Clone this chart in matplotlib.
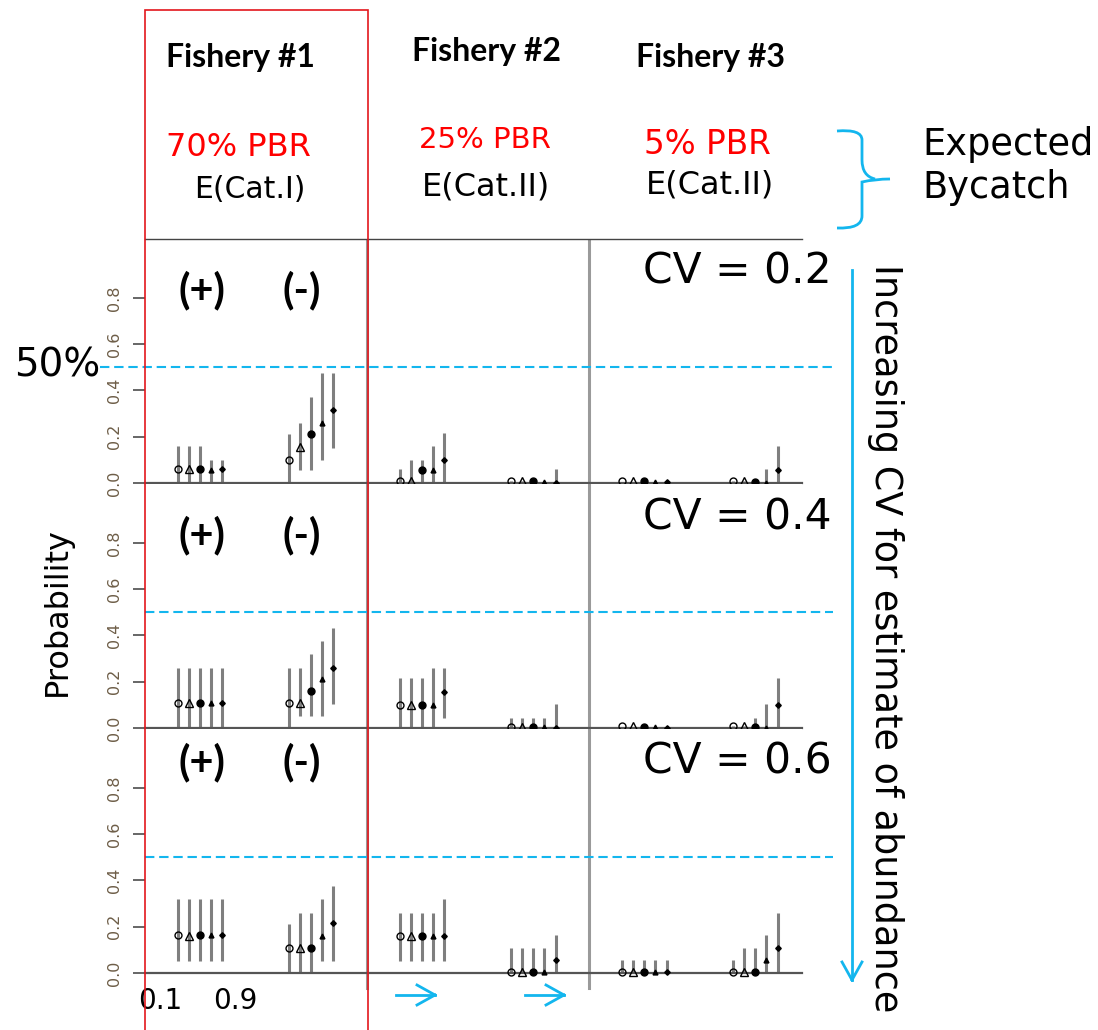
import numpy as np
import matplotlib
matplotlib.use("Agg")
import matplotlib.pyplot as plt
from matplotlib.lines import Line2D
from matplotlib.patches import Rectangle, PathPatch
from matplotlib.path import Path

# ------------------------------------------------------------------ data
fisheries = ["Fishery #1", "Fishery #2", "Fishery #3"]
pbr_share = ["70% PBR", "25% PBR", "5% PBR"]
bycatch_cat = ["E(Cat.I)", "E(Cat.II)", "E(Cat.II)"]
cv_levels = ["CV = 0.2", "CV = 0.4", "CV = 0.6"]
group_signs = ["(+)", "(-)"]

# 6 groups (F1+, F1-, F2+, F2-, F3+, F3-) x 5 scenarios each
mid_cv02 = [0.06, 0.06, 0.06, 0.055, 0.06,
            0.10, 0.155, 0.21, 0.26, 0.315,
            0.01, 0.01, 0.056, 0.056, 0.10,
            0.01, 0.01, 0.01, 0.005, 0.0,
            0.01, 0.01, 0.01, 0.005, 0.005,
            0.01, 0.01, 0.005, 0.0, 0.055]
lo_cv02 = [0.0, 0.0, 0.0, 0.0, 0.0,
           0.0, 0.055, 0.055, 0.10, 0.15,
           0.0, 0.0, 0.0, 0.0, 0.0,
           0.0, 0.0, 0.0, 0.0, 0.0,
           0.01, 0.01, 0.01, 0.005, 0.005,
           0.0, 0.0, 0.0, 0.0, 0.0]
hi_cv02 = [0.16, 0.16, 0.16, 0.10, 0.10,
           0.21, 0.26, 0.37, 0.475, 0.475,
           0.06, 0.10, 0.10, 0.16, 0.215,
           0.01, 0.01, 0.01, 0.01, 0.06,
           0.01, 0.01, 0.01, 0.005, 0.005,
           0.01, 0.01, 0.01, 0.06, 0.16]

mid_cv04 = [0.107, 0.107, 0.107, 0.107, 0.107,
            0.107, 0.107, 0.16, 0.21, 0.26,
            0.10, 0.10, 0.10, 0.10, 0.155,
            0.005, 0.005, 0.005, 0.005, 0.0,
            0.01, 0.01, 0.005, 0.005, 0.0,
            0.01, 0.01, 0.005, 0.0, 0.10]
lo_cv04 = [0.0, 0.0, 0.0, 0.0, 0.0,
           0.0, 0.05, 0.05, 0.05, 0.105,
           0.0, 0.0, 0.0, 0.0, 0.045,
           0.0, 0.0, 0.0, 0.0, 0.0,
           0.01, 0.01, 0.005, 0.005, 0.0,
           0.0, 0.0, 0.0, 0.0, 0.0]
hi_cv04 = [0.26, 0.26, 0.26, 0.26, 0.26,
           0.26, 0.26, 0.32, 0.375, 0.43,
           0.215, 0.215, 0.215, 0.26, 0.26,
           0.045, 0.045, 0.045, 0.045, 0.105,
           0.01, 0.01, 0.005, 0.005, 0.0,
           0.01, 0.01, 0.045, 0.105, 0.215]

mid_cv06 = [0.163, 0.16, 0.163, 0.163, 0.163,
            0.107, 0.107, 0.107, 0.16, 0.215,
            0.16, 0.16, 0.16, 0.16, 0.16,
            0.005, 0.005, 0.005, 0.005, 0.055,
            0.005, 0.005, 0.005, 0.005, 0.005,
            0.005, 0.005, 0.005, 0.055, 0.107]
lo_cv06 = [0.05, 0.05, 0.05, 0.05, 0.05,
           0.0, 0.0, 0.0, 0.05, 0.05,
           0.05, 0.05, 0.05, 0.05, 0.05,
           0.0, 0.0, 0.0, 0.0, 0.0,
           0.0, 0.0, 0.0, 0.0, 0.0,
           0.0, 0.0, 0.0, 0.0, 0.0]
hi_cv06 = [0.32, 0.32, 0.32, 0.32, 0.32,
           0.21, 0.26, 0.26, 0.32, 0.375,
           0.26, 0.26, 0.26, 0.26, 0.32,
           0.107, 0.107, 0.107, 0.107, 0.163,
           0.055, 0.055, 0.055, 0.055, 0.055,
           0.055, 0.107, 0.107, 0.163, 0.26]

threshold = 0.5
ref_ticks = [0.0, 0.2, 0.4, 0.6, 0.8]
xi_labels = ["0.1", "0.9"]

# ------------------------------------------------------------------ layout helpers
W, H = 1098, 1030
CYAN = "#13b6ee"
GRID_GRAY = "#9a9a9a"
AX_GRAY = "#555555"


def fx(x):
    return x / W


def fy(y):
    return 1 - y / H


x = np.array([g * 10 + i for g in range(6) for i in range(5)], dtype=float)
markers = [("o", "none", 5), ("^", "none", 5.5), ("o", "black", 5),
           ("^", "black", 3.5), ("D", "black", 2.8)]

fig = plt.figure(figsize=(W / 100, H / 100), dpi=100)
fig.patch.set_facecolor("white")

panels = [(mid_cv02, lo_cv02, hi_cv02),
          (mid_cv04, lo_cv04, hi_cv04),
          (mid_cv06, lo_cv06, hi_cv06)]
tops = [239, 484, 729]
ph = 244
axes = []
for k, (mid, lo, hi) in enumerate(panels):
    ax = fig.add_axes([fx(145), fy(tops[k] + ph), 657 / W, ph / H])
    axes.append(ax)
    ax.set_xlim(-2.97, 56.2)
    ax.set_ylim(0, 1.054)
    for s in ["left", "right"]:
        ax.spines[s].set_visible(False)
    ax.spines["top"].set_visible(k == 0)
    ax.spines["top"].set_color("#444444")
    ax.spines["top"].set_linewidth(1.0)
    ax.spines["bottom"].set_color(AX_GRAY)
    ax.spines["bottom"].set_linewidth(1.6)
    ax.set_xticks([])
    ax.set_yticks(ref_ticks)
    ax.set_yticklabels([f"{t:.1f}" for t in ref_ticks], fontsize=11.5,
                       rotation=90, va="center", color="#6e5e48")
    ax.tick_params(axis="y", length=8.5, width=1.4, color="#666666", pad=8)

    # separators between fisheries
    for xs in (17, 37):
        ax.axvline(xs, color=GRID_GRAY, lw=2.2, zorder=1)

    # 50% reference
    x0 = -7.0 if k == 0 else -2.97
    ax.plot([x0, 59.0], [threshold, threshold], color=CYAN, lw=1.5,
            ls=(0, (4.5, 2.3)), clip_on=False, zorder=3)

    mid, lo, hi = np.array(mid), np.array(lo), np.array(hi)
    ax.vlines(x, lo, hi, color="#7f7f7f", lw=2.2, zorder=2)
    for i, (m, fc, ms) in enumerate(markers):
        sel = slice(i, None, 5)
        ax.plot(x[sel], mid[sel], ls="none", marker=m, mfc=fc, mec="black",
                mew=1.0, ms=ms, zorder=4, clip_on=False)

    for gx, sign in zip((202, 302), group_signs):
        fig.text(fx(gx), fy(tops[k] + (51 if k < 2 else 33)), sign,
                 ha="center", va="center", fontsize=30, fontweight="bold",
                 family="Lato")

# separator lines run a bit below the last panel
for xs in (17, 37):
    axes[-1].plot([xs, xs], [-0.065, 0], color=GRID_GRAY, lw=2.2,
                  clip_on=False, zorder=1)

# ------------------------------------------------------------------ headers
plain = dict(family="DejaVu Sans", fontweight="normal")
for xc, yc, t in zip((240, 486, 710), (58, 52, 57), fisheries):
    fig.text(fx(xc), fy(yc), t, ha="center", va="center", fontsize=23,
             fontweight="bold", family="Lato")
for xc, yc, t, fs in zip((238, 485, 707), (148, 140, 145), pbr_share, (23, 21, 23.5)):
    fig.text(fx(xc), fy(yc), t, ha="center", va="center", fontsize=fs,
             color="#ff0000", **plain)
for xc, yc, t, fs in zip((250, 486, 710), (190, 187, 185), bycatch_cat, (21.5, 23, 23)):
    fig.text(fx(xc), fy(yc), t, ha="center", va="center", fontsize=fs, **plain)

fig.text(fx(922), fy(145), "Expected", ha="left", va="center", fontsize=26.5, **plain)
fig.text(fx(922), fy(188), "Bycatch", ha="left", va="center", fontsize=26.5, **plain)

for yc, t in zip((272, 518, 762), cv_levels):
    fig.text(fx(737), fy(yc), t, ha="center", va="center", fontsize=30.5, **plain)

fig.text(fx(57), fy(365), "50%", ha="center", va="center", fontsize=28, **plain)
fig.text(fx(57), fy(612), "Probability", ha="center", va="center",
         rotation=90, fontsize=23, **plain)
fig.text(fx(885), fy(638), "Increasing CV for estimate of abundance",
         ha="center", va="center", rotation=270, fontsize=26.3, **plain)
for xc, t in zip((160, 235), xi_labels):
    fig.text(fx(xc), fy(1001), t, ha="center", va="center", fontsize=20, **plain)


# ------------------------------------------------------------------ annotations
def arrow(x0, y0, x1, y1, head=18, half=10):
    fig.add_artist(Line2D([fx(x0), fx(x1)], [fy(y0), fy(y1)], color=CYAN,
                          lw=2, transform=fig.transFigure))
    d = np.array([x1 - x0, y1 - y0], dtype=float)
    d /= np.hypot(*d)
    n = np.array([-d[1], d[0]])
    for s in (1, -1):
        bx, by = np.array([x1, y1]) - head * d + s * half * n
        fig.add_artist(Line2D([fx(bx), fx(x1)], [fy(by), fy(y1)], color=CYAN,
                              lw=2, transform=fig.transFigure))


arrow(852, 270, 852, 980)
arrow(396, 995, 435, 995)
arrow(525, 995, 564, 995)

# curly brace next to the bycatch labels
bv = [(837, 131), (862, 129), (862, 140), (862, 160), (862, 176), (875, 179),
      (890, 179), (875, 179), (862, 182), (862, 198), (862, 216), (862, 229),
      (837, 228)]
bc = [Path.MOVETO, Path.CURVE3, Path.CURVE3, Path.LINETO, Path.CURVE3,
      Path.CURVE3, Path.MOVETO, Path.CURVE3, Path.CURVE3, Path.LINETO,
      Path.LINETO, Path.CURVE3, Path.CURVE3]
brace = Path([(fx(a), fy(b)) for a, b in bv], bc)
fig.add_artist(PathPatch(brace, fill=False, edgecolor=CYAN, lw=2,
                         transform=fig.transFigure))

# highlight box around fishery #1
fig.add_artist(Rectangle((fx(145), fy(1040)), (368 - 145) / W, 1030 / H,
                         fill=False, edgecolor="#e3161c", lw=1.2,
                         transform=fig.transFigure, zorder=10))

fig.savefig("out.png", dpi=100, facecolor="white")
